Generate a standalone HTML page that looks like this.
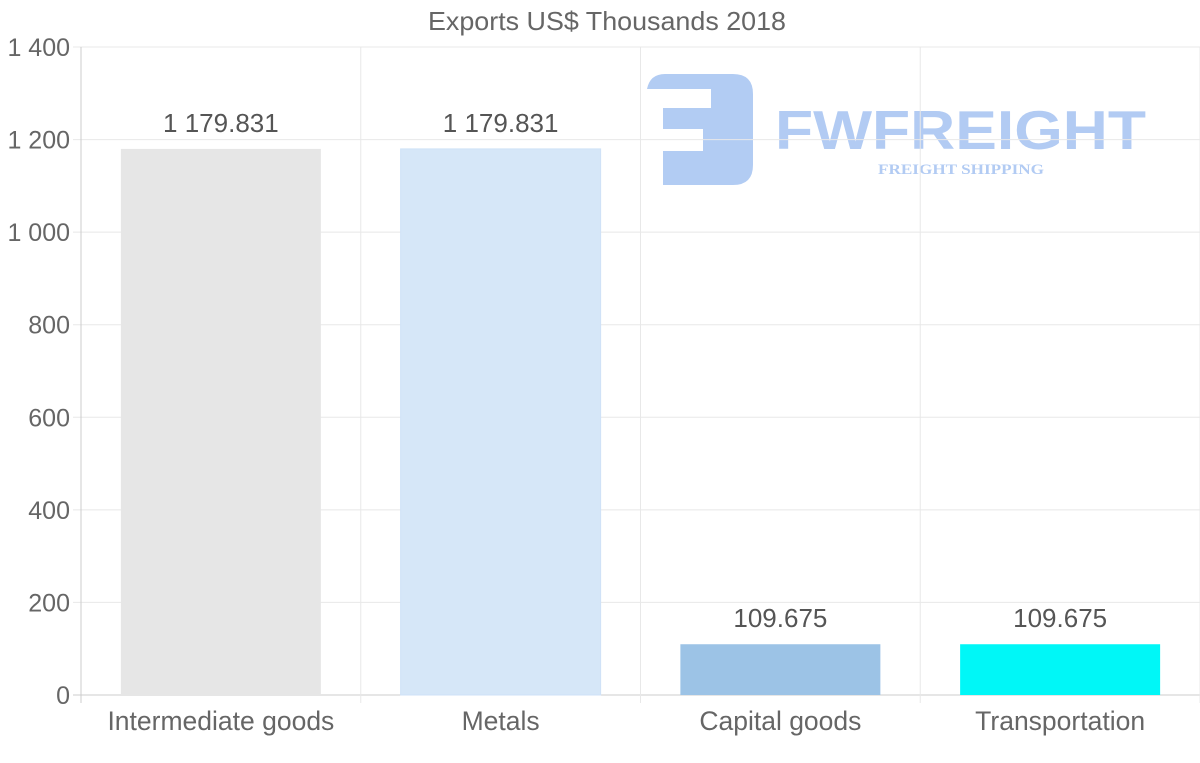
<!DOCTYPE html>
<html><head><meta charset="utf-8"><style>
html,body{margin:0;padding:0;background:#fff;}
svg{display:block;font-family:"Liberation Sans",Arial,sans-serif;}
</style></head><body>
<svg id="chart" width="1200" height="763" viewBox="0 0 1200 763">
<text x="607" y="30" text-anchor="middle" font-size="26" fill="#666" textLength="358" lengthAdjust="spacingAndGlyphs">Exports US$ Thousands 2018</text>
<g opacity="0.9">
<path d="M665 74 H733 Q753 74 753 94 V165 Q753 185 733 185 H663 V151 H703 V129 H663 V108 H711 V89 H647 Q650 74 665 74 Z" fill="#aac6f2"/>
<text x="775" y="149" font-size="55" font-weight="bold" fill="#aac6f2" textLength="371" lengthAdjust="spacingAndGlyphs">FWFREIGHT</text>
<text x="878" y="174" font-size="15" font-weight="bold" font-family="Liberation Serif,serif" fill="#aac6f2" textLength="166" lengthAdjust="spacingAndGlyphs">FREIGHT SHIPPING</text>
</g>
<g id="grid"></g><g id="bars"></g><g id="labels"></g>
</svg>
<script>
const categories = ["Intermediate goods","Metals","Capital goods","Transportation"];
const values = [1179.831,1179.831,109.675,109.675];
const valueLabels = ["1 179.831","1 179.831","109.675","109.675"];
const yTicks = [0,200,400,600,800,1000,1200,1400];
const yTickLabels = ["0","200","400","600","800","1 000","1 200","1 400"];
const colors = ["#e6e6e6","#d6e7f8","#9cc3e6","#00f7f7"];
const NS="http://www.w3.org/2000/svg";
const x0=81,x1=1200,yTop=47,yBot=695,yMax=1400;
const band=(x1-x0)/categories.length;
const y=v=>yBot-(v/yMax)*(yBot-yTop);
const xc=i=>x0+band*(i+0.5);
function mk(tag,attrs,parent){const e=document.createElementNS(NS,tag);for(const k in attrs)e.setAttribute(k,attrs[k]);document.getElementById(parent).appendChild(e);return e;}
yTicks.forEach((t,i)=>{
  const l=mk("line",{x1:x0-8,x2:x1,y1:y(t),y2:y(t),stroke:t===0?"#ccc":"#e8e8e8","stroke-width":1},"grid");
  
  
  const tx=mk("text",{x:70,y:y(t)+9,"text-anchor":"end","font-size":25,fill:"#666"},"grid");
  tx.textContent=yTickLabels[i];
  
  
});
for(let i=0;i<=categories.length;i++){
  const xx=x0+band*i;
  const l=mk("line",{x1:xx,x2:xx,y1:yTop,y2:yBot+8,stroke:i===0?"#ccc":"#e8e8e8","stroke-width":1},"grid");
  
  
}
categories.forEach((c,i)=>{
  const bw=200;
  const r=mk("rect",{x:xc(i)-bw/2,y:y(values[i]),width:bw,height:yBot-y(values[i]),fill:colors[i]},"bars");
  if(i===1){r.setAttribute("stroke","#cfe2f7");}
  
  
  const v=mk("text",{x:xc(i),y:y(values[i])-17,"text-anchor":"middle","font-size":26,fill:"#555"},"labels");
  v.textContent=valueLabels[i];
  
  
  const cl=mk("text",{x:xc(i),y:730,"text-anchor":"middle","font-size":26.5,fill:"#666"},"labels");
  cl.textContent=c;
  
  
});
</script>
</body></html>
